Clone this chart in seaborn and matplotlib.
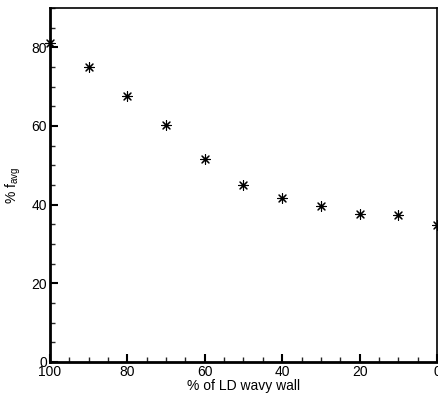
import matplotlib
matplotlib.use("Agg")
import matplotlib.pyplot as plt
import seaborn as sns
import pandas as pd
from matplotlib.ticker import MultipleLocator

sns.set_theme(style="white")
plt.rcParams['font.family'] = ['Liberation Sans', 'DejaVu Sans']
plt.rcParams['mathtext.fontset'] = 'custom'
plt.rcParams['mathtext.rm'] = 'Liberation Sans'

pct_ld = [100, 90, 80, 70, 60, 50, 40, 30, 20, 10, 0]
f_avg = [81.0, 74.9, 67.6, 60.2, 51.6, 45.0, 41.6, 39.7, 37.6, 37.3, 34.9]

df = pd.DataFrame({"pct": pct_ld, "favg": f_avg})

fig = plt.figure(figsize=(4.39, 3.96), dpi=100)
ax = fig.add_axes([0.1139, 0.0859, 0.8815, 0.894])

sns.scatterplot(data=df, x="pct", y="favg", ax=ax, marker=(8, 2, 0), s=50,
                color="black", linewidth=0.8, edgecolor="black", clip_on=False, zorder=5)

ax.set_xlim(100, 0)
ax.set_ylim(0, 90)
ax.xaxis.set_major_locator(MultipleLocator(20))
ax.xaxis.set_minor_locator(MultipleLocator(5))
ax.yaxis.set_major_locator(MultipleLocator(20))
ax.yaxis.set_minor_locator(MultipleLocator(5))
ax.tick_params(axis='both', which='major', direction='in', length=6, width=1.5,
               labelsize=10, colors='black', pad=2, top=False, right=False,
               bottom=True, left=True)
ax.tick_params(axis='both', which='minor', direction='in', length=3.5, width=1.0,
               top=False, right=False, bottom=True, left=True)

for side in ['left', 'bottom']:
    ax.spines[side].set_linewidth(2.0)
    ax.spines[side].set_color('black')
for side in ['top', 'right']:
    ax.spines[side].set_linewidth(1.2)
    ax.spines[side].set_color('black')

ax.set_xlabel("% of LD wavy wall", fontsize=10, labelpad=0, color='black')
ax.set_ylabel(r"% f$_{\rm avg}$", fontsize=10, labelpad=6, color='black')
ax.grid(False)

fig.savefig("out.png", dpi=100)
